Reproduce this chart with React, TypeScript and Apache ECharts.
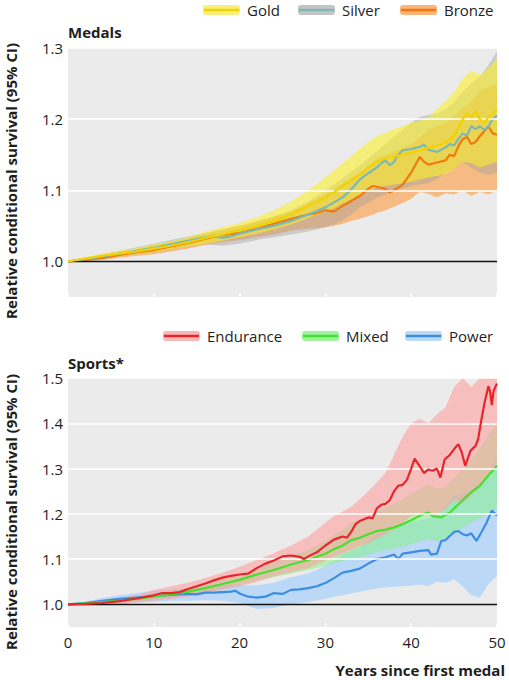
import React, { useEffect, useRef } from "react";
import * as echarts from "echarts";

// ---------- shared band years ----------
const BAND_YEARS = [0, 2, 4, 6, 8, 10, 12, 14, 16, 18, 20, 22, 24, 26, 28, 30, 31, 32, 33, 34, 35, 36, 37, 38, 39, 40, 41, 42, 43, 44, 45, 46, 47, 48, 49, 50];

// ---------- Medals panel ----------
const GOLD_LINE: [number, number][] = [
  [0, 1.0], [2, 1.004], [4, 1.008], [6, 1.011], [8, 1.014], [10, 1.018], [12, 1.022], [14, 1.027], [16, 1.033], [18, 1.038],
  [20, 1.044], [22, 1.05], [24, 1.057], [26, 1.066], [28, 1.078], [30, 1.09], [31, 1.097], [32, 1.106], [33, 1.114], [34, 1.122],
  [35, 1.132], [36, 1.14], [37, 1.145], [38, 1.147], [39, 1.15], [40, 1.153], [41, 1.156], [42, 1.16], [43, 1.163], [44, 1.167],
  [45, 1.176], [45.5, 1.188], [46, 1.2], [46.5, 1.208], [47, 1.203], [47.5, 1.211], [48, 1.2], [48.5, 1.194], [49, 1.203], [49.5, 1.207], [50, 1.214],
];
const SILVER_LINE: [number, number][] = [
  [0, 1.0], [2, 1.003], [4, 1.007], [6, 1.011], [8, 1.015], [10, 1.019], [12, 1.024], [14, 1.029], [16, 1.034], [17, 1.036],
  [18, 1.033], [19, 1.035], [20, 1.039], [22, 1.045], [24, 1.05], [26, 1.057], [28, 1.066], [30, 1.076], [31, 1.083], [32, 1.09],
  [33, 1.101], [34, 1.115], [35, 1.124], [36, 1.132], [36.5, 1.138], [37, 1.142], [37.5, 1.135], [38, 1.14], [38.5, 1.15], [39, 1.156],
  [40, 1.158], [41, 1.161], [41.5, 1.164], [42, 1.157], [43, 1.154], [44, 1.16], [44.5, 1.165], [45, 1.163], [45.5, 1.172], [46, 1.18],
  [46.5, 1.177], [47, 1.19], [47.5, 1.186], [48, 1.19], [48.5, 1.185], [49, 1.19], [49.5, 1.2], [50, 1.205],
];
const BRONZE_LINE: [number, number][] = [
  [0, 1.0], [2, 1.002], [4, 1.005], [6, 1.009], [8, 1.013], [10, 1.016], [12, 1.021], [14, 1.026], [16, 1.032], [18, 1.037],
  [20, 1.04], [22, 1.046], [24, 1.053], [26, 1.06], [28, 1.066], [29, 1.068], [30, 1.072], [31, 1.07], [32, 1.078], [33, 1.085],
  [34, 1.092], [35, 1.102], [35.5, 1.106], [36, 1.105], [37, 1.102], [37.5, 1.097], [38, 1.1], [39, 1.108], [40, 1.125], [40.5, 1.136],
  [41, 1.147], [41.5, 1.14], [42, 1.136], [43, 1.139], [44, 1.142], [44.5, 1.15], [45, 1.148], [45.5, 1.162], [46, 1.172], [46.5, 1.175],
  [47, 1.165], [47.5, 1.168], [48, 1.176], [48.5, 1.183], [49, 1.19], [49.5, 1.18], [50, 1.178],
];
const GOLD_LOW = [1.0, 1.002, 1.005, 1.007, 1.01, 1.013, 1.017, 1.021, 1.024, 1.029, 1.034, 1.039, 1.045, 1.052, 1.061, 1.07, 1.075, 1.081, 1.087, 1.093, 1.099, 1.104, 1.106, 1.108, 1.11, 1.112, 1.115, 1.118, 1.12, 1.123, 1.13, 1.14, 1.138, 1.132, 1.136, 1.14];
const GOLD_HIGH = [1.0, 1.006, 1.011, 1.015, 1.019, 1.024, 1.028, 1.034, 1.042, 1.048, 1.054, 1.062, 1.072, 1.084, 1.1, 1.118, 1.128, 1.138, 1.148, 1.158, 1.168, 1.176, 1.181, 1.186, 1.19, 1.195, 1.198, 1.203, 1.214, 1.225, 1.238, 1.256, 1.268, 1.262, 1.272, 1.285];
const SILVER_LOW = [1.0, 1.001, 1.004, 1.007, 1.01, 1.013, 1.017, 1.021, 1.024, 1.022, 1.025, 1.03, 1.034, 1.038, 1.042, 1.048, 1.052, 1.058, 1.066, 1.076, 1.083, 1.09, 1.094, 1.098, 1.103, 1.106, 1.108, 1.11, 1.115, 1.125, 1.13, 1.14, 1.132, 1.125, 1.122, 1.125];
const SILVER_HIGH = [1.0, 1.005, 1.01, 1.015, 1.02, 1.025, 1.03, 1.035, 1.04, 1.045, 1.05, 1.056, 1.063, 1.072, 1.085, 1.1, 1.108, 1.117, 1.126, 1.135, 1.145, 1.155, 1.165, 1.175, 1.185, 1.195, 1.203, 1.206, 1.208, 1.214, 1.224, 1.238, 1.25, 1.26, 1.276, 1.295];
const BRONZE_LOW = [1.0, 1.0, 1.002, 1.005, 1.008, 1.01, 1.014, 1.018, 1.023, 1.027, 1.03, 1.034, 1.038, 1.043, 1.046, 1.048, 1.05, 1.053, 1.057, 1.06, 1.064, 1.068, 1.072, 1.077, 1.082, 1.088, 1.098, 1.095, 1.09, 1.096, 1.094, 1.1, 1.092, 1.098, 1.094, 1.1];
const BRONZE_HIGH = [1.0, 1.004, 1.008, 1.012, 1.017, 1.022, 1.027, 1.033, 1.039, 1.045, 1.05, 1.056, 1.063, 1.07, 1.082, 1.095, 1.102, 1.11, 1.118, 1.125, 1.135, 1.145, 1.15, 1.155, 1.16, 1.165, 1.175, 1.185, 1.19, 1.195, 1.205, 1.215, 1.225, 1.24, 1.245, 1.25];

// ---------- Sports panel ----------
const ENDURANCE_LINE: [number, number][] = [
  [0, 1.0], [2, 1.001], [4, 1.003], [6, 1.007], [8, 1.013], [10, 1.02], [11, 1.025], [12, 1.025], [13, 1.027], [14, 1.034],
  [15, 1.04], [16, 1.046], [17, 1.053], [18, 1.059], [19, 1.063], [20, 1.066], [21, 1.068], [22, 1.08], [23, 1.09], [24, 1.097],
  [25, 1.106], [26, 1.108], [27, 1.105], [27.5, 1.1], [28, 1.106], [29, 1.115], [30, 1.13], [31, 1.143], [32, 1.15], [32.5, 1.147],
  [33, 1.16], [33.5, 1.177], [34, 1.184], [35, 1.192], [35.5, 1.19], [36, 1.212], [36.5, 1.22], [37, 1.222], [37.5, 1.23], [38, 1.25],
  [38.5, 1.262], [39, 1.264], [39.5, 1.275], [40, 1.3], [40.4, 1.322], [41, 1.305], [41.5, 1.29], [42, 1.298], [42.5, 1.295], [43, 1.3],
  [43.4, 1.28], [43.9, 1.32], [44.5, 1.33], [45, 1.343], [45.5, 1.354], [45.9, 1.335], [46.3, 1.306], [46.9, 1.339], [47.5, 1.35], [47.8, 1.365],
  [48.2, 1.41], [48.6, 1.45], [49, 1.482], [49.2, 1.47], [49.4, 1.44], [49.6, 1.471], [49.8, 1.48], [50, 1.488],
];
const MIXED_LINE: [number, number][] = [
  [0, 1.0], [2, 1.002], [4, 1.005], [6, 1.008], [8, 1.012], [10, 1.017], [12, 1.022], [14, 1.028], [16, 1.036], [18, 1.045],
  [20, 1.054], [22, 1.066], [24, 1.076], [26, 1.088], [28, 1.098], [29, 1.105], [30, 1.112], [31, 1.122], [32, 1.13], [33, 1.142],
  [34, 1.147], [35, 1.155], [36, 1.162], [37, 1.165], [38, 1.17], [39, 1.177], [40, 1.186], [41, 1.196], [41.5, 1.2], [42, 1.203],
  [42.5, 1.195], [43, 1.194], [43.5, 1.192], [44, 1.198], [44.5, 1.203], [45, 1.212], [46, 1.23], [47, 1.248], [48, 1.262], [49, 1.285],
  [49.5, 1.295], [50, 1.306],
];
const POWER_LINE: [number, number][] = [
  [0, 1.0], [2, 1.003], [4, 1.008], [6, 1.012], [8, 1.015], [10, 1.018], [12, 1.021], [14, 1.023], [15, 1.022], [16, 1.026],
  [17, 1.026], [18, 1.027], [19, 1.028], [19.5, 1.03], [20, 1.024], [21, 1.017], [22, 1.015], [23, 1.017], [24, 1.025], [25, 1.023],
  [26, 1.032], [27, 1.033], [28, 1.036], [29, 1.04], [30, 1.047], [31, 1.058], [32, 1.07], [33, 1.074], [34, 1.079], [35, 1.09],
  [36, 1.1], [37, 1.104], [38, 1.11], [38.5, 1.1], [39, 1.112], [40, 1.115], [41, 1.118], [42, 1.12], [42.3, 1.11], [43, 1.112],
  [43.5, 1.14], [44, 1.142], [45, 1.16], [45.5, 1.162], [46, 1.155], [46.5, 1.152], [47, 1.157], [47.6, 1.14], [48.2, 1.16], [48.8, 1.181],
  [49.4, 1.207], [50, 1.196],
];
const ENDURANCE_LOW = [1.0, 0.998, 0.998, 1.0, 1.004, 1.008, 1.012, 1.017, 1.025, 1.033, 1.04, 1.05, 1.062, 1.071, 1.08, 1.097, 1.105, 1.112, 1.12, 1.128, 1.135, 1.145, 1.155, 1.165, 1.18, 1.195, 1.2, 1.2, 1.2, 1.21, 1.23, 1.225, 1.24, 1.26, 1.29, 1.3];
const ENDURANCE_HIGH = [1.0, 1.004, 1.009, 1.014, 1.02, 1.032, 1.04, 1.048, 1.058, 1.07, 1.083, 1.098, 1.113, 1.13, 1.15, 1.18, 1.195, 1.205, 1.215, 1.232, 1.25, 1.27, 1.29, 1.33, 1.37, 1.4, 1.41, 1.4, 1.42, 1.435, 1.48, 1.52, 1.48, 1.52, 1.55, 1.55];
const MIXED_LOW = [1.0, 1.0, 1.002, 1.004, 1.007, 1.011, 1.015, 1.02, 1.027, 1.034, 1.042, 1.052, 1.06, 1.068, 1.076, 1.085, 1.09, 1.096, 1.1, 1.104, 1.11, 1.116, 1.12, 1.124, 1.128, 1.132, 1.14, 1.145, 1.14, 1.145, 1.155, 1.17, 1.18, 1.19, 1.2, 1.21];
const MIXED_HIGH = [1.0, 1.004, 1.008, 1.012, 1.017, 1.023, 1.029, 1.036, 1.045, 1.056, 1.066, 1.08, 1.092, 1.108, 1.12, 1.14, 1.152, 1.164, 1.18, 1.185, 1.195, 1.205, 1.213, 1.222, 1.232, 1.245, 1.255, 1.265, 1.255, 1.26, 1.28, 1.3, 1.32, 1.345, 1.375, 1.4];
const POWER_LOW = [1.0, 0.999, 1.0, 1.002, 1.004, 1.006, 1.008, 1.008, 1.009, 1.008, 1.003, 0.99, 0.992, 1.0, 1.005, 1.012, 1.017, 1.02, 1.024, 1.028, 1.032, 1.035, 1.037, 1.039, 1.04, 1.041, 1.044, 1.04, 1.05, 1.048, 1.055, 1.04, 1.02, 1.015, 1.045, 1.062];
const POWER_HIGH = [1.0, 1.006, 1.014, 1.02, 1.025, 1.03, 1.033, 1.036, 1.04, 1.044, 1.043, 1.042, 1.048, 1.06, 1.068, 1.085, 1.095, 1.11, 1.118, 1.125, 1.14, 1.155, 1.165, 1.17, 1.175, 1.18, 1.185, 1.19, 1.195, 1.215, 1.24, 1.245, 1.25, 1.26, 1.29, 1.33];

// ---------- axis ticks ----------
const X_TICKS = { min: 0, max: 50, interval: 10 };
const Y_TOP = { min: 0.95, max: 1.3 };
const Y_BOTTOM = { min: 0.95, max: 1.5 };
const GRID_VALUES_TOP = [1.1, 1.2, 1.3];
const GRID_VALUES_BOTTOM = [1.1, 1.2, 1.3, 1.4, 1.5];

const FONT = '"Open Sans", "Noto Sans", sans-serif';
const TEXT = "#1e1e1e";

function bandSeries(name: string, lower: number[], upper: number[], fill: string, idx: number) {
  return {
    type: "custom",
    name,
    xAxisIndex: idx,
    yAxisIndex: idx,
    data: [[0, 1]],
    silent: true,
    z: 1,
    renderItem: (params: any, api: any) => {
      const cs = params.coordSys;
      const clamp = (p: number[]) => [
        Math.min(Math.max(p[0], cs.x), cs.x + cs.width),
        Math.min(Math.max(p[1], cs.y), cs.y + cs.height),
      ];
      const top = BAND_YEARS.map((yr, i) => clamp(api.coord([yr, upper[i]])));
      const bot = BAND_YEARS.map((yr, i) => clamp(api.coord([yr, lower[i]]))).reverse();
      return { type: "polygon", shape: { points: top.concat(bot) }, style: { fill }, silent: true };
    },
  };
}

function lineSeries(name: string, data: [number, number][], color: string, idx: number, z: number) {
  return {
    type: "line",
    name,
    xAxisIndex: idx,
    yAxisIndex: idx,
    data,
    showSymbol: false,
    symbol: "none",
    silent: true,
    z,
    lineStyle: { color, width: 2.2 },
    itemStyle: { color },
  };
}

function gridLineSeries(values: number[], idx: number) {
  return {
    type: "line",
    xAxisIndex: idx,
    yAxisIndex: idx,
    data: [[0, 1]],
    showSymbol: false,
    symbol: "none",
    silent: true,
    z: 2,
    lineStyle: { opacity: 0 },
    markLine: {
      silent: true,
      symbol: ["none", "none"],
      label: { show: false },
      animation: false,
      data: [
        ...values.map((v) => ({ yAxis: v, lineStyle: { color: "#ffffff", width: 1.6, type: "solid" } })),
        { yAxis: 1.0, lineStyle: { color: "#111111", width: 1.3, type: "solid" } },
      ],
    },
  };
}

function legendItem(x: number, y: number, label: string, band: string, line: string) {
  return {
    type: "group",
    children: [
      { type: "rect", shape: { x, y: y - 5, width: 37, height: 10, r: 3 }, style: { fill: band } },
      { type: "rect", shape: { x: x + 1, y: y - 1.25, width: 35, height: 2.5 }, style: { fill: line } },
      { type: "text", x: x + 44, y, style: { text: label, font: `15px ${FONT}`, fill: TEXT, textVerticalAlign: "middle", textAlign: "left" } },
    ],
  };
}

const yLabelFormatter = (v: number) => {
  const r = Math.round(v * 100);
  if (r % 10 !== 0) return "";
  return (r / 100).toFixed(1);
};

export default function App() {
  const ref = useRef<HTMLDivElement>(null);
  useEffect(() => {
    if (!ref.current) return;
    const chart = echarts.init(ref.current, undefined, { renderer: "svg" });
    const xAxisBase = {
      type: "value",
      ...X_TICKS,
      axisLine: { show: false },
      axisTick: { show: true, inside: true, length: 4, lineStyle: { color: "#ffffff", width: 1.5 } },
      splitLine: { show: false },
    };
    const yAxisBase = {
      type: "value",
      interval: 0.05,
      axisLine: { show: false },
      axisTick: { show: false },
      splitLine: { show: false },
      axisLabel: { formatter: yLabelFormatter, fontSize: 15, color: TEXT, fontFamily: FONT, margin: 5 },
    };
    chart.setOption({
      animation: false,
      grid: [
        { left: 68, right: 12, top: 48, height: 249, show: true, backgroundColor: "#ebebeb", borderWidth: 0 },
        { left: 68, right: 12, top: 378, height: 249, show: true, backgroundColor: "#ebebeb", borderWidth: 0 },
      ],
      xAxis: [
        { ...xAxisBase, gridIndex: 0, axisLabel: { show: false } },
        { ...xAxisBase, gridIndex: 1, axisLabel: { show: true, fontSize: 15, color: TEXT, fontFamily: FONT, margin: 7 } },
      ],
      yAxis: [
        { ...yAxisBase, gridIndex: 0, ...Y_TOP },
        { ...yAxisBase, gridIndex: 1, ...Y_BOTTOM },
      ],
      series: [
        bandSeries("Bronze CI", BRONZE_LOW, BRONZE_HIGH, "rgba(255,145,45,0.55)", 0),
        bandSeries("Silver CI", SILVER_LOW, SILVER_HIGH, "rgba(160,160,160,0.42)", 0),
        bandSeries("Gold CI", GOLD_LOW, GOLD_HIGH, "rgba(252,242,40,0.58)", 0),
        gridLineSeries(GRID_VALUES_TOP, 0),
        lineSeries("Bronze", BRONZE_LINE, "#f07b0c", 0, 3),
        lineSeries("Silver", SILVER_LINE, "#7cb8b6", 0, 4),
        lineSeries("Gold", GOLD_LINE, "#f2d200", 0, 5),

        bandSeries("Power CI", POWER_LOW, POWER_HIGH, "rgba(157,203,255,0.6)", 1),
        bandSeries("Mixed CI", MIXED_LOW, MIXED_HIGH, "rgba(127,243,127,0.5)", 1),
        bandSeries("Endurance CI", ENDURANCE_LOW, ENDURANCE_HIGH, "rgba(255,160,160,0.6)", 1),
        gridLineSeries(GRID_VALUES_BOTTOM, 1),
        lineSeries("Power", POWER_LINE, "#3b8de0", 1, 3),
        lineSeries("Mixed", MIXED_LINE, "#48e030", 1, 4),
        lineSeries("Endurance", ENDURANCE_LINE, "#e5262b", 1, 5),
      ],
      graphic: [
        legendItem(203, 10, "Gold", "#f8f07a", "#f2d200"),
        legendItem(298, 10, "Silver", "#c4c4c4", "#7cb8b6"),
        legendItem(400, 10, "Bronze", "#f9b57a", "#f07b0c"),
        legendItem(163, 336, "Endurance", "#f7b8b8", "#e5262b"),
        legendItem(302, 336, "Mixed", "#9ef59e", "#48e030"),
        legendItem(405, 336, "Power", "#bcdaf9", "#3b8de0"),
        { type: "text", x: 68, y: 32, style: { text: "Medals", font: `bold 15px ${FONT}`, fill: TEXT, textVerticalAlign: "middle" } },
        { type: "text", x: 68, y: 363, style: { text: "Sports*", font: `bold 15px ${FONT}`, fill: TEXT, textVerticalAlign: "middle" } },
        { type: "text", x: 11, y: 181, rotation: Math.PI / 2, style: { text: "Relative conditional survival (95% CI)", font: `bold 15px ${FONT}`, fill: TEXT, textAlign: "center", textVerticalAlign: "middle" } },
        { type: "text", x: 11, y: 512, rotation: Math.PI / 2, style: { text: "Relative conditional survival (95% CI)", font: `bold 15px ${FONT}`, fill: TEXT, textAlign: "center", textVerticalAlign: "middle" } },
        { type: "text", x: 505, y: 670, style: { text: "Years since first medal", font: `bold 15px ${FONT}`, fill: TEXT, textAlign: "right", textVerticalAlign: "middle" } },
      ],
    });
    return () => chart.dispose();
  }, []);
  return <div ref={ref} style={{ position: "fixed", left: 0, top: 0, width: 509, height: 680, background: "#ffffff" }} />;
}
